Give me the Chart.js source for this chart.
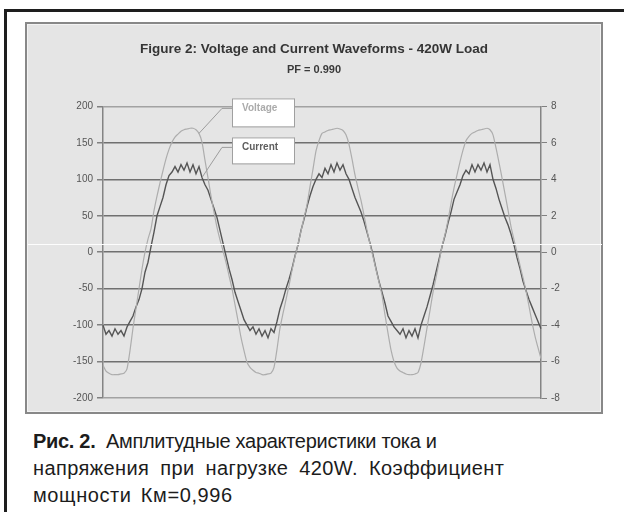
<!DOCTYPE html>
<html>
<head>
<meta charset="utf-8">
<script src="https://cdn.jsdelivr.net/npm/chart.js@4"></script>
<style>
  body { margin: 0; width: 624px; height: 512px; overflow: hidden; position: relative; background: #fff; font-family: "Liberation Sans", Arial, sans-serif; }
  #frame { position: absolute; left: 4px; top: 9px; width: 640px; height: 520px; border-left: 3px solid #1e1e1e; border-top: 3px solid #1e1e1e; }
  #panel { position: absolute; left: 25px; top: 22px; width: 574px; height: 388px; background: #e5e5e5; border: 2px solid #888; box-shadow: inset 0 0 0 1px #f3f3f3; }
  #panel canvas { position: absolute; left: 0; top: 0; }
  #scanline { position: absolute; left: 28px; top: 244px; width: 574px; height: 1px; background: #fdfdfd; }
  #caption { position: absolute; left: 33px; top: 428px; width: 590px; font-size: 20px; line-height: 27px; color: #1c1c1c; white-space: nowrap; }
  #caption b { font-weight: bold; }
  #caption .l1 { letter-spacing: -0.3px; }
  #caption .l2 { letter-spacing: 0.4px; word-spacing: 5px; }
  #caption .l3 { letter-spacing: 0.6px; word-spacing: 3px; }
</style>
</head>
<body>
<div id="frame"></div>
<div id="panel"><canvas id="grafico-ondas" width="574" height="388"></canvas></div>
<div id="scanline"></div>
<div id="caption"><span class="l1"><b>Рис. 2.</b>&nbsp; Амплитудные характеристики тока и</span><br><span class="l2">напряжения при нагрузке 420W. Коэффициент</span><br><span class="l3">мощности Км=0,996</span></div>
<script>
// voltage, V (left axis) - three mains cycles
const voltage = [
  -155, -163, -166, -168, -168, -168, -167, -166, -160, -135,
  -104, -77, -50, -23, 0, 18, 32, 57, 77, 95,
  112, 128, 141, 151, 158, 162, 166, 168, 169, 170,
  170, 168, 163, 151, 126, 102, 77, 55, 34, 17,
  2, -14, -32, -50, -72, -94, -117, -135, -151, -158,
  -162, -165, -166, -168, -168, -167, -166, -158, -133, -104,
  -84, -65, -46, -25, -6, 11, 29, 47, 65, 90,
  114, 139, 153, 163, 165, 167, 168, 169, 170, 169,
  167, 161, 148, 128, 106, 88, 71, 51, 30, 11,
  -6, -24, -41, -59, -86, -111, -134, -150, -159, -163,
  -165, -167, -168, -168, -167, -165, -152, -129, -104, -80,
  -55, -35, -14, 8, 24, 44, 67, 88, 106, 124,
  140, 153, 159, 163, 165, 167, 168, 169, 170, 168,
  161, 143, 123, 102, 80, 58, 35, 17, 0, -18,
  -35, -53, -74, -96, -115, -131, -146
];

// current, A (right axis)
const current = [
  -4.0, -4.5, -4.3, -4.6, -4.2, -4.5, -4.3, -4.6, -4.1, -3.8,
  -3.5, -3.0, -2.6, -2.0, -1.1, -0.55, 0.3, 1.1, 2.0, 2.5,
  3.0, 3.7, 4.2, 4.4, 4.7, 4.4, 4.8, 4.5, 4.9, 4.4,
  4.8, 4.3, 4.7, 4.1, 3.7, 3.4, 2.9, 2.4, 1.9, 1.2,
  0.5, -0.2, -0.9, -1.5, -2.2, -2.7, -3.2, -3.7, -4.0, -4.3,
  -4.1, -4.5, -4.2, -4.6, -4.3, -4.7, -4.2, -4.4, -3.8, -3.1,
  -2.6, -2.0, -1.5, -0.9, -0.2, 0.4, 1.2, 1.8, 2.5, 3.1,
  3.6, 4.0, 4.3, 4.1, 4.6, 4.3, 4.8, 4.4, 4.9, 4.5,
  4.8, 4.3, 4.0, 3.5, 3.0, 2.6, 2.2, 1.7, 1.1, 0.5,
  -0.15, -0.9, -1.6, -2.2, -2.8, -3.5, -3.8, -4.1, -4.3, -4.5,
  -4.2, -4.7, -4.3, -4.6, -4.2, -4.7, -4.0, -3.5, -3.0, -2.4,
  -1.8, -1.1, -0.4, 0.3, 0.9, 1.6, 2.2, 2.9, 3.3, 3.7,
  4.2, 4.5, 4.3, 4.8, 4.4, 4.8, 4.5, 4.9, 4.4, 4.8,
  4.0, 3.5, 2.9, 2.4, 1.9, 1.5, 1.0, 0.4, -0.3, -0.9,
  -1.6, -2.1, -2.6, -3.0, -3.4, -3.8, -4.2
];

const amostras = voltage.map((_, i) => i);

const tituloTexto = "Figure 2: Voltage and Current Waveforms - 420W Load";
const subtituloTexto = "PF = 0.990";
const fonte = "'Liberation Sans', Arial, sans-serif";

// caixas da legenda com linha de chamada ate a curva
const legendaCaixas = {
    id: "legendaCaixas",
    afterDraw(chart) {
        const ctx = chart.ctx;
        const area = chart.chartArea;
        const itens = [
            { texto: "Voltage", cor: "#ababab", ds: 0, ponto: 32, top: area.top - 8, h: 28 },
            { texto: "Current", cor: "#5e5e5e", ds: 1, ponto: 33, top: area.top + 31, h: 26 }
        ];
        const x0 = area.left + 129;
        const w = 62;
        ctx.save();
        itens.forEach(it => {
            const p = chart.getDatasetMeta(it.ds).data[it.ponto];
            const yLinha = it.top + 10;
            ctx.strokeStyle = "#9c9c9c";
            ctx.lineWidth = 1;
            ctx.beginPath();
            ctx.moveTo(x0, yLinha);
            ctx.lineTo(x0 - 10, yLinha);
            ctx.lineTo(p.x, p.y);
            ctx.stroke();

            ctx.fillStyle = "#fff";
            ctx.fillRect(x0, it.top, w, it.h);
            ctx.strokeStyle = "#a0a0a0";
            ctx.strokeRect(x0 + 0.5, it.top + 0.5, w, it.h);

            ctx.fillStyle = it.cor;
            ctx.font = "bold 10px " + fonte;
            ctx.textBaseline = "middle";
            ctx.textAlign = "left";
            ctx.fillText(it.texto, x0 + 10, it.top + 10);
        });
        ctx.restore();
    }
};

const corGrade = (ctx) => (ctx.index === 0 || ctx.index === ctx.chart.scales.y.ticks.length - 1) ? "#a2a2a2" : "#707070";

new Chart(document.getElementById("grafico-ondas"), {
    type: "line",
    data: {
        labels: amostras,
        datasets: [{
            label: "Voltage",
            data: voltage,
            yAxisID: "y",
            borderColor: "#adadad",
            borderWidth: 1.2,
            pointRadius: 0,
            tension: 0.2
        }, {
            label: "Current",
            data: current,
            yAxisID: "y1",
            borderColor: "#555",
            borderWidth: 1.4,
            pointRadius: 0,
            tension: 0
        }]
    },
    options: {
        responsive: false,
        animation: false,
        layout: { padding: { left: 0, right: 0, top: 0, bottom: 14 } },
        plugins: {
            legend: { display: false },
            tooltip: { enabled: false },
            title: {
                display: true,
                text: tituloTexto,
                color: "#353535",
                font: { family: fonte, size: 13.5, weight: "bold" },
                padding: { top: 17, bottom: 0 }
            },
            subtitle: {
                display: true,
                text: subtituloTexto,
                color: "#3a3a3a",
                font: { family: fonte, size: 11, weight: "bold" },
                padding: { top: 6, bottom: 30 }
            }
        },
        scales: {
            x: { display: false, offset: false },
            y: {
                position: "left",
                min: -200,
                max: 200,
                afterFit: (s) => { s.width = 76; },
                ticks: { stepSize: 50, color: "#555", padding: 4, font: { family: fonte, size: 10 } },
                grid: { color: corGrade, lineWidth: 1.5, tickLength: 6, tickColor: "#808080" },
                border: { color: "#848484", width: 1.5 }
            },
            y1: {
                position: "right",
                min: -8,
                max: 8,
                afterFit: (s) => { s.width = 60; },
                ticks: { stepSize: 2, color: "#555", padding: 4, font: { family: fonte, size: 10 } },
                grid: { drawOnChartArea: false, tickLength: 6, tickColor: "#808080" },
                border: { color: "#848484", width: 1.5 }
            }
        }
    },
    plugins: [legendaCaixas]
});
</script>
</body>
</html>
